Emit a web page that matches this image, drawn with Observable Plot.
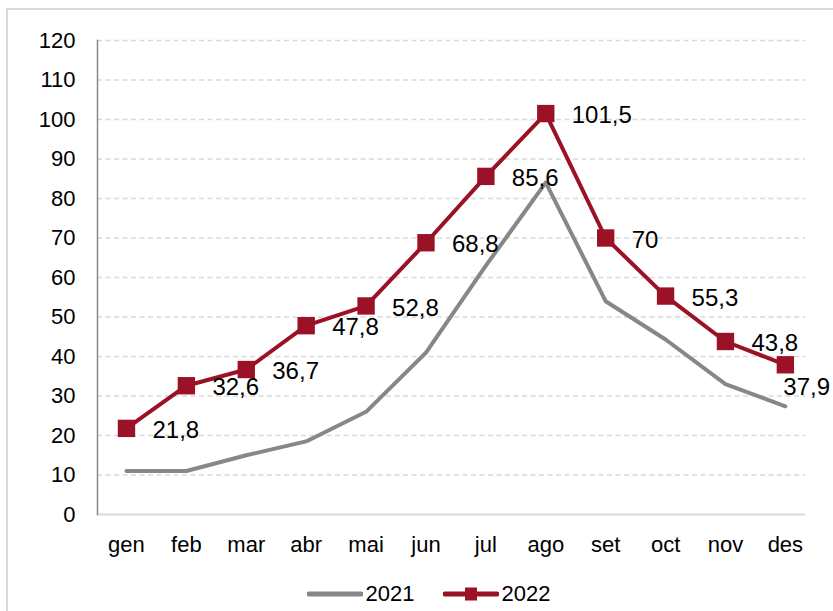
<!DOCTYPE html>
<html>
<head>
<meta charset="utf-8">
<script src="https://cdn.jsdelivr.net/npm/d3@7"></script>
<script src="https://cdn.jsdelivr.net/npm/@observablehq/plot@0.6"></script>
<style>
  html, body { margin: 0; padding: 0; background: #fff; overflow: hidden; }
  body { width: 833px; height: 611px; position: relative; font-family: "Liberation Sans", Arial, sans-serif; }
  #frame { position: absolute; left: 6px; top: 8px; width: 900px; height: 700px; border-left: 2px solid #d9d9d9; border-top: 2px solid #d9d9d9; }
  #chart { position: absolute; left: 0; top: 0; }
  #legend { position: absolute; left: 12px; top: 581px; width: 833px; display: flex; justify-content: center; align-items: center; font-size: 22px; color: #000; }
  #legend .item { display: flex; align-items: center; }
  #legend svg { display: block; }
</style>
</head>
<body>
<div id="frame"></div>
<div id="chart"></div>
<div id="legend"></div>
<script>
const months = ["gen", "feb", "mar", "abr", "mai", "jun", "jul", "ago", "set", "oct", "nov", "des"];
const values2021 = [11, 11, 15, 18.5, 26, 41, 63, 84, 54, 44.3, 33, 27.4];
const values2022 = [21.8, 32.6, 36.7, 47.8, 52.8, 68.8, 85.6, 101.5, 70, 55.3, 43.8, 37.9];
const labels2022 = ["21,8", "32,6", "36,7", "47,8", "52,8", "68,8", "85,6", "101,5", "70", "55,3", "43,8", "37,9"];
const yTicks = [0, 10, 20, 30, 40, 50, 60, 70, 80, 90, 100, 110, 120];
const seriesNames = ["2021", "2022"];
const colors = ["#878787", "#9b1126"];

const d2021 = months.map((m, i) => ({month: m, value: values2021[i]}));
const d2022 = months.map((m, i) => ({month: m, value: values2022[i], label: labels2022[i]}));

const chart = Plot.plot({
  width: 833,
  height: 570,
  marginTop: 40,
  marginBottom: 56,
  marginLeft: 97,
  marginRight: 28,
  style: {fontFamily: "'Liberation Sans', Arial, sans-serif", fontSize: "22px", color: "#000", background: "transparent"},
  x: {type: "point", domain: months, padding: 0.41, align: 0.59, round: false, label: null},
  y: {domain: [0, 120], label: null},
  marks: [
    Plot.ruleY(yTicks.filter(d => d > 0), {stroke: "#d9d9d9", strokeWidth: 1.6, strokeDasharray: "5,3.5"}),
    Plot.ruleY([0], {stroke: "#d9d9d9", strokeWidth: 2}),
    Plot.frame({anchor: "left", stroke: "#888", strokeWidth: 1.5}),
    Plot.axisY(yTicks, {tickSize: 0, tickPadding: 22, fontSize: 22, label: null}),
    Plot.axisX({tickSize: 0, tickPadding: 22, fontSize: 22, label: null}),
    Plot.lineY(d2021, {x: "month", y: "value", stroke: colors[0], strokeWidth: 4}),
    Plot.lineY(d2022, {x: "month", y: "value", stroke: colors[1], strokeWidth: 4}),
    Plot.dot(d2022, {x: "month", y: "value", symbol: "square", r: 9.8, fill: colors[1], stroke: "none"}),
    Plot.text(d2022.slice(0, 11), {x: "month", y: "value", text: "label", dx: 26, dy: 2, textAnchor: "start", fontSize: 24, fill: "#000"}),
    Plot.text(d2022.slice(11), {x: "month", y: "value", text: "label", dx: -2, dy: 23, textAnchor: "start", fontSize: 24, fill: "#000"})
  ]
});
document.getElementById("chart").appendChild(chart);

const legend = document.getElementById("legend");
seriesNames.forEach((name, i) => {
  const item = document.createElement("div");
  item.className = "item";
  item.style.marginRight = i === 0 ? "28px" : "0";
  const ns = "http://www.w3.org/2000/svg";
  const svg = document.createElementNS(ns, "svg");
  svg.setAttribute("width", "56");
  svg.setAttribute("height", "20");
  const line = document.createElementNS(ns, "line");
  line.setAttribute("x1", "2"); line.setAttribute("x2", "54");
  line.setAttribute("y1", "10"); line.setAttribute("y2", "10");
  line.setAttribute("stroke", colors[i]);
  line.setAttribute("stroke-width", "5");
  line.setAttribute("stroke-linecap", "round");
  svg.appendChild(line);
  if (i === 1) {
    const sq = document.createElementNS(ns, "rect");
    sq.setAttribute("x", "22"); sq.setAttribute("y", "3.5");
    sq.setAttribute("width", "12"); sq.setAttribute("height", "13");
    sq.setAttribute("fill", colors[i]);
    svg.appendChild(sq);
  }
  item.appendChild(svg);
  const span = document.createElement("span");
  span.textContent = name;
  span.style.marginLeft = "3px";
  item.appendChild(span);
  legend.appendChild(item);
});
</script>
</body>
</html>
